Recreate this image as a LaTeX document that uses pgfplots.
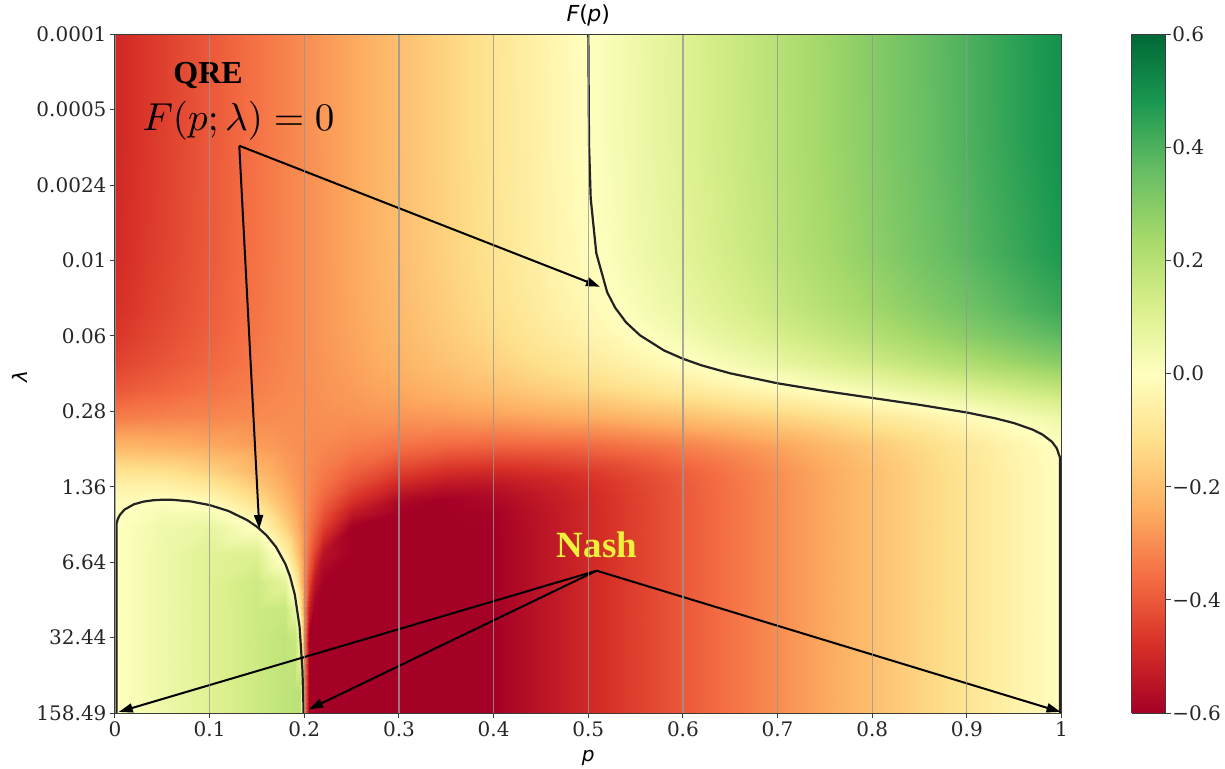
\documentclass[border=0pt]{standalone}
\usepackage{graphicx}
\usepackage{fontspec}
\setmainfont{DejaVu Serif}
\newfontfamily\dvsans{DejaVu Sans}
\newfontfamily\annot{Liberation Serif}
\usepackage{pgfplots}
\pgfplotsset{compat=1.18}
\usetikzlibrary{arrows.meta}
\definecolor{nashyellow}{RGB}{238,242,58}
\definecolor{framegray}{RGB}{60,60,60}
\definecolor{gridgray}{RGB}{150,150,150}
\definecolor{curvegray}{RGB}{35,35,35}
\newcommand\tickfont{\fontsize{20}{24}\selectfont}
\newcommand\labfont{\fontsize{20}{24}\selectfont\dvsans}
\pgfplotsset{
    colormap={rdylgn}{rgb255=(165,0,38) rgb255=(215,48,39) rgb255=(244,109,67)
        rgb255=(253,174,97) rgb255=(254,224,139) rgb255=(255,255,191)
        rgb255=(217,239,139) rgb255=(166,217,106) rgb255=(102,189,99)
        rgb255=(26,152,80) rgb255=(0,104,55)},
    heatstyle/.style={
        scale only axis, view={0}{90}, axis on top,
        colormap name=rdylgn, point meta min=-0.6, point meta max=0.6,
        ztick=\empty,
        tick label style={font=\tickfont, text=black!85},
        tick align=outside, major tick length=5pt,
        tick style={framegray, line width=1pt},
        axis line style={framegray, line width=1pt},
    },
}

\begin{document}
\begin{tikzpicture}
\path[use as bounding box] (0,0) rectangle (1225pt,768pt);
\begin{axis}[heatstyle,
    at={(115pt,55pt)}, anchor=south west,
    width=946.5pt, height=678.7pt,
    xmin=0, xmax=1, ymin=-4, ymax=2.2, y dir=reverse,
    clip=false, tick pos=left,
    xtick={0,0.1,...,1},
    xticklabels={0,0.1,0.2,0.3,0.4,0.5,0.6,0.7,0.8,0.9,1},
    ytick={-4,-3.31111,-2.62222,-1.93333,-1.24444,-0.55556,0.13333,0.82222,1.51111,2.2},
    yticklabels={0.0001,0.0005,0.0024,0.01,0.06,0.28,1.36,6.64,32.44,158.49},
    xmajorgrids, grid style={gridgray, line width=1.2pt, opacity=0.8},
    every axis x label/.style={at={(axis description cs:0.5,-0.0663)}, anchor=center, font=\labfont},
    every axis y label/.style={at={(axis description cs:-0.1004,0.495)}, anchor=center, rotate=90, font=\labfont},
    xlabel={\itshape p}, ylabel={\itshape λ},
    title={{\itshape F}(\kern-0.5pt{\itshape p})},
    title style={at={(axis description cs:0.5,1.0093)}, anchor=base, font=\fontsize{22}{26}\selectfont\dvsans},
]
% F(p; lambda), rows in log10(lambda)
\addplot3[surf, shader=interp, mesh/cols=22] coordinates {
(0,-4,-0.5) (0.05,-4,-0.45) (0.1,-4,-0.4) (0.15,-4,-0.35) (0.18,-4,-0.32) (0.19,-4,-0.31) (0.195,-4,-0.305) (0.2,-4,-0.3) (0.205,-4,-0.295) (0.21,-4,-0.29) (0.22,-4,-0.28) (0.25,-4,-0.25) (0.3,-4,-0.2) (0.35,-4,-0.15) (0.4,-4,-0.1) (0.5,-4,0) (0.6,-4,0.1) (0.7,-4,0.2) (0.8,-4,0.3) (0.9,-4,0.4) (0.95,-4,0.45) (1,-4,0.5)
(0,-3,-0.5) (0.05,-3,-0.45) (0.1,-3,-0.4) (0.15,-3,-0.35) (0.18,-3,-0.32) (0.19,-3,-0.31) (0.195,-3,-0.305) (0.2,-3,-0.3) (0.205,-3,-0.295) (0.21,-3,-0.29) (0.22,-3,-0.28) (0.25,-3,-0.25) (0.3,-3,-0.2) (0.35,-3,-0.15) (0.4,-3,-0.101) (0.5,-3,-0.001) (0.6,-3,0.099) (0.7,-3,0.198) (0.8,-3,0.298) (0.9,-3,0.398) (0.95,-3,0.448) (1,-3,0.498)
(0,-2,-0.494) (0.05,-2,-0.446) (0.1,-2,-0.397) (0.15,-2,-0.349) (0.18,-2,-0.319) (0.19,-2,-0.31) (0.195,-2,-0.305) (0.2,-2,-0.3) (0.205,-2,-0.295) (0.21,-2,-0.29) (0.22,-2,-0.281) (0.25,-2,-0.251) (0.3,-2,-0.203) (0.35,-2,-0.154) (0.4,-2,-0.106) (0.5,-2,-0.008) (0.6,-2,0.089) (0.7,-2,0.186) (0.8,-2,0.284) (0.9,-2,0.381) (0.95,-2,0.429) (1,-2,0.478)
(0,-1.5,-0.483) (0.05,-1.5,-0.437) (0.1,-1.5,-0.391) (0.15,-1.5,-0.346) (0.18,-1.5,-0.318) (0.19,-1.5,-0.309) (0.195,-1.5,-0.305) (0.2,-1.5,-0.3) (0.205,-1.5,-0.295) (0.21,-1.5,-0.291) (0.22,-1.5,-0.282) (0.25,-1.5,-0.254) (0.3,-1.5,-0.209) (0.35,-1.5,-0.163) (0.4,-1.5,-0.117) (0.5,-1.5,-0.026) (0.6,-1.5,0.065) (0.7,-1.5,0.157) (0.8,-1.5,0.248) (0.9,-1.5,0.339) (0.95,-1.5,0.385) (1,-1.5,0.431)
(0,-1.25,-0.469) (0.05,-1.25,-0.427) (0.1,-1.25,-0.385) (0.15,-1.25,-0.342) (0.18,-1.25,-0.317) (0.19,-1.25,-0.308) (0.195,-1.25,-0.304) (0.2,-1.25,-0.3) (0.205,-1.25,-0.296) (0.21,-1.25,-0.292) (0.22,-1.25,-0.283) (0.25,-1.25,-0.258) (0.3,-1.25,-0.215) (0.35,-1.25,-0.173) (0.4,-1.25,-0.131) (0.5,-1.25,-0.046) (0.6,-1.25,0.038) (0.7,-1.25,0.123) (0.8,-1.25,0.208) (0.9,-1.25,0.293) (0.95,-1.25,0.336) (1,-1.25,0.379)
(0,-1,-0.445) (0.05,-1,-0.409) (0.1,-1,-0.373) (0.15,-1,-0.336) (0.18,-1,-0.315) (0.19,-1,-0.307) (0.195,-1,-0.304) (0.2,-1,-0.3) (0.205,-1,-0.296) (0.21,-1,-0.293) (0.22,-1,-0.286) (0.25,-1,-0.264) (0.3,-1,-0.228) (0.35,-1,-0.191) (0.4,-1,-0.155) (0.5,-1,-0.082) (0.6,-1,-0.008) (0.7,-1,0.066) (0.8,-1,0.141) (0.9,-1,0.217) (0.95,-1,0.255) (1,-1,0.293)
(0,-0.75,-0.404) (0.05,-0.75,-0.377) (0.1,-0.75,-0.351) (0.15,-0.75,-0.326) (0.18,-0.75,-0.31) (0.19,-0.75,-0.305) (0.195,-0.75,-0.303) (0.2,-0.75,-0.3) (0.205,-0.75,-0.297) (0.21,-0.75,-0.295) (0.22,-0.75,-0.29) (0.25,-0.75,-0.274) (0.3,-0.75,-0.249) (0.35,-0.75,-0.223) (0.4,-0.75,-0.197) (0.5,-0.75,-0.143) (0.6,-0.75,-0.086) (0.7,-0.75,-0.027) (0.8,-0.75,0.036) (0.9,-0.75,0.103) (0.95,-0.75,0.137) (1,-0.75,0.173)
(0,-0.5,-0.333) (0.05,-0.5,-0.322) (0.1,-0.5,-0.314) (0.15,-0.5,-0.307) (0.18,-0.5,-0.303) (0.19,-0.5,-0.301) (0.195,-0.5,-0.301) (0.2,-0.5,-0.3) (0.205,-0.5,-0.299) (0.21,-0.5,-0.299) (0.22,-0.5,-0.297) (0.25,-0.5,-0.293) (0.3,-0.5,-0.286) (0.35,-0.5,-0.278) (0.4,-0.5,-0.267) (0.5,-0.5,-0.24) (0.6,-0.5,-0.201) (0.7,-0.5,-0.151) (0.8,-0.5,-0.09) (0.9,-0.5,-0.02) (0.95,-0.5,0.019) (1,-0.5,0.058)
(0,-0.25,-0.225) (0.05,-0.25,-0.233) (0.1,-0.25,-0.25) (0.15,-0.25,-0.273) (0.18,-0.25,-0.289) (0.19,-0.25,-0.295) (0.195,-0.25,-0.297) (0.2,-0.25,-0.3) (0.205,-0.25,-0.303) (0.21,-0.25,-0.306) (0.22,-0.25,-0.311) (0.25,-0.25,-0.327) (0.3,-0.25,-0.35) (0.35,-0.25,-0.367) (0.4,-0.25,-0.375) (0.5,-0.25,-0.365) (0.6,-0.25,-0.322) (0.7,-0.25,-0.257) (0.8,-0.25,-0.176) (0.9,-0.25,-0.087) (0.95,-0.25,-0.04) (1,-0.25,0.007)
(0,0,-0.1) (0.05,0,-0.111) (0.1,0,-0.15) (0.15,0,-0.216) (0.18,0,-0.265) (0.19,0,-0.283) (0.195,0,-0.291) (0.2,0,-0.3) (0.205,0,-0.309) (0.21,0,-0.318) (0.22,0,-0.335) (0.25,0,-0.384) (0.3,0,-0.45) (0.35,0,-0.489) (0.4,0,-0.5) (0.5,0,-0.464) (0.6,0,-0.388) (0.7,0,-0.296) (0.8,0,-0.199) (0.9,0,-0.1) (0.95,0,-0.05) (1,0,0)
(0,0.125,-0.051) (0.05,0.125,-0.05) (0.1,0.125,-0.087) (0.15,0.125,-0.174) (0.18,0.125,-0.247) (0.19,0.125,-0.273) (0.195,0.125,-0.287) (0.2,0.125,-0.3) (0.205,0.125,-0.313) (0.21,0.125,-0.327) (0.22,0.125,-0.353) (0.25,0.125,-0.426) (0.3,0.125,-0.513) (0.35,0.125,-0.55) (0.4,0.125,-0.55) (0.5,0.125,-0.488) (0.6,0.125,-0.397) (0.7,0.125,-0.299) (0.8,0.125,-0.2) (0.9,0.125,-0.1) (0.95,0.125,-0.05) (1,0.125,0)
(0,0.25,-0.02) (0.05,0.25,-0.001) (0.1,0.25,-0.024) (0.15,0.25,-0.123) (0.18,0.25,-0.224) (0.19,0.25,-0.261) (0.195,0.25,-0.281) (0.2,0.25,-0.3) (0.205,0.25,-0.319) (0.21,0.25,-0.339) (0.22,0.25,-0.377) (0.25,0.25,-0.477) (0.3,0.25,-0.576) (0.35,0.25,-0.6) (0.4,0.25,-0.58) (0.5,0.25,-0.497) (0.6,0.25,-0.4) (0.7,0.25,-0.3) (0.8,0.25,-0.2) (0.9,0.25,-0.1) (0.95,0.25,-0.05) (1,0.25,0)
(0,0.375,-0.005) (0.05,0.375,0.03) (0.1,0.375,0.031) (0.15,0.375,-0.063) (0.18,0.375,-0.192) (0.19,0.375,-0.245) (0.195,0.375,-0.272) (0.2,0.375,-0.3) (0.205,0.375,-0.328) (0.21,0.375,-0.355) (0.22,0.375,-0.408) (0.25,0.375,-0.537) (0.3,0.375,-0.6) (0.35,0.375,-0.6) (0.4,0.375,-0.595) (0.5,0.375,-0.5) (0.6,0.375,-0.4) (0.7,0.375,-0.3) (0.8,0.375,-0.2) (0.9,0.375,-0.1) (0.95,0.375,-0.05) (1,0.375,0)
(0,0.5,-0.001) (0.05,0.5,0.045) (0.1,0.5,0.07) (0.15,0.5,0.001) (0.18,0.5,-0.153) (0.19,0.5,-0.224) (0.195,0.5,-0.262) (0.2,0.5,-0.3) (0.205,0.5,-0.338) (0.21,0.5,-0.376) (0.22,0.5,-0.447) (0.25,0.5,-0.6) (0.3,0.5,-0.6) (0.35,0.5,-0.6) (0.4,0.5,-0.599) (0.5,0.5,-0.5) (0.6,0.5,-0.4) (0.7,0.5,-0.3) (0.8,0.5,-0.2) (0.9,0.5,-0.1) (0.95,0.5,-0.05) (1,0.5,0)
(0,0.75,0) (0.05,0.75,0.05) (0.1,0.75,0.098) (0.15,0.75,0.107) (0.18,0.75,-0.045) (0.19,0.75,-0.16) (0.195,0.75,-0.228) (0.2,0.75,-0.3) (0.205,0.75,-0.372) (0.21,0.75,-0.44) (0.22,0.75,-0.555) (0.25,0.75,-0.6) (0.3,0.75,-0.6) (0.35,0.75,-0.6) (0.4,0.75,-0.6) (0.5,0.75,-0.5) (0.6,0.75,-0.4) (0.7,0.75,-0.3) (0.8,0.75,-0.2) (0.9,0.75,-0.1) (0.95,0.75,-0.05) (1,0.75,0)
(0,1,0) (0.05,1,0.05) (0.1,1,0.1) (0.15,1,0.146) (0.18,1,0.08) (0.19,1,-0.06) (0.195,1,-0.171) (0.2,1,-0.3) (0.205,1,-0.429) (0.21,1,-0.54) (0.22,1,-0.6) (0.25,1,-0.6) (0.3,1,-0.6) (0.35,1,-0.6) (0.4,1,-0.6) (0.5,1,-0.5) (0.6,1,-0.4) (0.7,1,-0.3) (0.8,1,-0.2) (0.9,1,-0.1) (0.95,1,-0.05) (1,1,0)
(0,1.25,0) (0.05,1.25,0.05) (0.1,1.25,0.1) (0.15,1.25,0.15) (0.18,1.25,0.16) (0.19,1.25,0.066) (0.195,1.25,-0.078) (0.2,1.25,-0.3) (0.205,1.25,-0.522) (0.21,1.25,-0.6) (0.22,1.25,-0.6) (0.25,1.25,-0.6) (0.3,1.25,-0.6) (0.35,1.25,-0.6) (0.4,1.25,-0.6) (0.5,1.25,-0.5) (0.6,1.25,-0.4) (0.7,1.25,-0.3) (0.8,1.25,-0.2) (0.9,1.25,-0.1) (0.95,1.25,-0.05) (1,1.25,0)
(0,1.5,0) (0.05,1.5,0.05) (0.1,1.5,0.1) (0.15,1.5,0.15) (0.18,1.5,0.179) (0.19,1.5,0.16) (0.195,1.5,0.046) (0.2,1.5,-0.3) (0.205,1.5,-0.6) (0.21,1.5,-0.6) (0.22,1.5,-0.6) (0.25,1.5,-0.6) (0.3,1.5,-0.6) (0.35,1.5,-0.6) (0.4,1.5,-0.6) (0.5,1.5,-0.5) (0.6,1.5,-0.4) (0.7,1.5,-0.3) (0.8,1.5,-0.2) (0.9,1.5,-0.1) (0.95,1.5,-0.05) (1,1.5,0)
(0,2,0) (0.05,2,0.05) (0.1,2,0.1) (0.15,2,0.15) (0.18,2,0.18) (0.19,2,0.19) (0.195,2,0.191) (0.2,2,-0.3) (0.205,2,-0.6) (0.21,2,-0.6) (0.22,2,-0.6) (0.25,2,-0.6) (0.3,2,-0.6) (0.35,2,-0.6) (0.4,2,-0.6) (0.5,2,-0.5) (0.6,2,-0.4) (0.7,2,-0.3) (0.8,2,-0.2) (0.9,2,-0.1) (0.95,2,-0.05) (1,2,0)
(0,2.2,0) (0.05,2.2,0.05) (0.1,2.2,0.1) (0.15,2.2,0.15) (0.18,2.2,0.18) (0.19,2.2,0.19) (0.195,2.2,0.195) (0.2,2.2,-0.3) (0.205,2.2,-0.6) (0.21,2.2,-0.6) (0.22,2.2,-0.6) (0.25,2.2,-0.6) (0.3,2.2,-0.6) (0.35,2.2,-0.6) (0.4,2.2,-0.6) (0.5,2.2,-0.5) (0.6,2.2,-0.4) (0.7,2.2,-0.3) (0.8,2.2,-0.2) (0.9,2.2,-0.1) (0.95,2.2,-0.05) (1,2.2,0)
};
% zero contour F = 0, upper branch
\addplot3[curvegray, line width=2.2pt, line join=round] coordinates {
(0.50008,-4,0) (0.5008,-3,0) (0.5026,-2.5,0) (0.5085,-2,0) (0.52,-1.643,0)
(0.5286,-1.5,0) (0.54,-1.368,0) (0.5547,-1.25,0) (0.58,-1.112,0) (0.6,-1.036,0)
(0.62,-0.975,0) (0.65,-0.903,0) (0.7,-0.812,0) (0.75,-0.741,0) (0.8,-0.678,0)
(0.85,-0.615,0) (0.9,-0.545,0) (0.93,-0.492,0) (0.95,-0.448,0) (0.97,-0.387,0)
(0.98,-0.343,0) (0.99,-0.277,0) (0.995,-0.218,0) (0.9985,-0.13,0) (0.9985,2.2,0)
};
% zero contour, lower-left loop
\addplot3[curvegray, line width=2.2pt, line join=round] coordinates {
(0.0015,2.2,0) (0.0015,0.474,0) (0.003,0.428,0) (0.005,0.392,0) (0.01,0.342,0)
(0.02,0.2935,0) (0.03,0.2692,0) (0.04,0.2567,0) (0.05,0.2515,0) (0.06,0.252,0)
(0.08,0.2672,0) (0.1,0.3005,0) (0.12,0.355,0) (0.14,0.4394,0) (0.15,0.499,0)
(0.16,0.5762,0) (0.17,0.6817,0) (0.18,0.8384,0) (0.185,0.9536,0) (0.19,1.12,0)
(0.195,1.411,0) (0.198,1.803,0) (0.199,2.102,0) (0.1992,2.2,0)
};
% annotations
\draw[line width=2pt, -{Triangle[length=14pt,width=9pt]}] (axis cs:0.1313,-2.982,0) -- (axis cs:0.5124,-1.694,0);
\draw[line width=2pt, -{Triangle[length=14pt,width=9pt]}] (axis cs:0.1313,-2.982,0) -- (axis cs:0.1525,0.519,0);
\draw[line width=2pt, -{Triangle[length=14pt,width=9pt]}] (axis cs:0.5089,0.9,0) -- (axis cs:0.004,2.19,0);
\draw[line width=2pt, -{Triangle[length=14pt,width=9pt]}] (axis cs:0.5089,0.9,0) -- (axis cs:0.205,2.166,0);
\draw[line width=2pt, -{Triangle[length=14pt,width=9pt]}] (axis cs:0.5089,0.9,0) -- (axis cs:0.999,2.19,0);
\node[anchor=base, inner sep=0pt, font=\fontsize{32}{36}\selectfont\annot\bfseries] at (axis cs:0.0983,-3.555,0) {QRE};
\node[anchor=base, inner sep=0pt] at (axis cs:0.1305,-3.117,0) {\scalebox{3.9}{$F(p;\lambda)=0$}};
\node[anchor=base, inner sep=0pt, text=nashyellow, font=\fontsize{37}{42}\selectfont\annot\bfseries] at (axis cs:0.5092,0.778,0) {Nash};
\end{axis}

% colour bar
\begin{axis}[heatstyle,
    at={(1131.7pt,55pt)}, anchor=south west,
    width=34pt, height=678.7pt,
    xmin=0, xmax=1, ymin=-0.6, ymax=0.6,
    xtick=\empty,
    ytick={-0.6,-0.4,-0.2,0,0.2,0.4,0.6},
    yticklabels={−0.6,−0.4,−0.2,0.0,0.2,0.4,0.6},
    ytick pos=right, yticklabel pos=right,
    yticklabel style={xshift=-2pt},
]
\addplot3[surf, shader=interp, mesh/cols=2] coordinates {
(0,-0.6,-0.6) (1,-0.6,-0.6) (0,-0.5,-0.5) (1,-0.5,-0.5) (0,-0.4,-0.4) (1,-0.4,-0.4)
(0,-0.3,-0.3) (1,-0.3,-0.3) (0,-0.2,-0.2) (1,-0.2,-0.2) (0,-0.1,-0.1) (1,-0.1,-0.1)
(0,0,0) (1,0,0) (0,0.1,0.1) (1,0.1,0.1) (0,0.2,0.2) (1,0.2,0.2)
(0,0.3,0.3) (1,0.3,0.3) (0,0.4,0.4) (1,0.4,0.4) (0,0.5,0.5) (1,0.5,0.5)
(0,0.6,0.6) (1,0.6,0.6)
};
\end{axis}
\end{tikzpicture}
\end{document}
